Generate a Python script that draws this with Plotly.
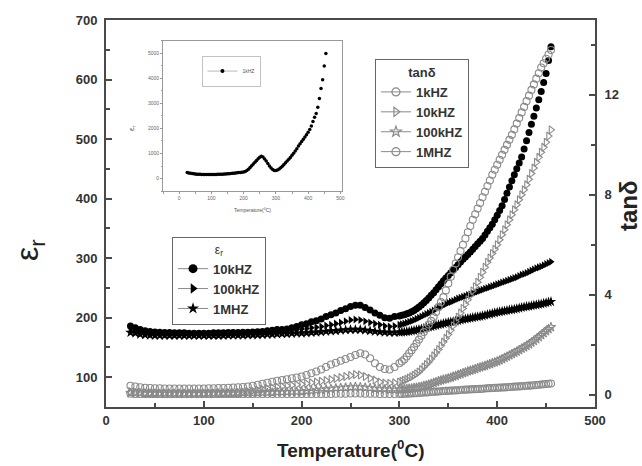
import plotly.graph_objects as go

# measurement temperatures (denser above 300 C, as in the measured data)
temperature = [25, 30, 35, 40, 45, 50, 55, 60, 65, 70,
               75, 80, 85, 90, 95, 100, 105, 110, 115, 120,
               125, 130, 135, 140, 145, 150, 155, 160, 165, 170,
               175, 180, 185, 190, 195, 200, 205, 210, 215, 220,
               225, 230, 235, 240, 245, 250, 255, 260, 265, 270,
               275, 280, 285, 290, 295,
               300, 302.5, 305, 307.5, 310, 312.5, 315, 317.5, 320, 322.5,
               325, 327.5, 330, 332.5, 335, 337.5, 340, 342.5, 345, 347.5,
               350, 352.5, 355, 357.5, 360, 362.5, 365, 367.5, 370, 372.5,
               375, 377.5, 380, 382.5, 385, 387.5, 390, 392.5, 395, 397.5,
               400, 402.5, 405, 407.5, 410, 412.5, 415, 417.5, 420, 422.5,
               425, 427.5, 430, 432.5, 435, 437.5, 440, 442.5, 445, 447.5,
               450, 452.5, 455]

# dielectric constant (left axis)
er_10k = [186, 183, 180, 178, 177, 176, 175.5, 175, 175, 174.5,
          174.5, 174.5, 174, 174, 174, 174, 174, 174.5, 174.5, 174.5,
          175, 175, 175, 175.5, 175.5, 176, 176.5, 177, 178, 179,
          180, 180, 181, 183, 185, 188, 190, 193, 195, 198,
          202, 205, 208, 212, 215, 219, 221, 221, 217, 213,
          208, 204, 200, 199, 202,
          203, 204, 205, 206.5, 208, 210, 212, 215, 218, 221.5,
          225, 229, 233, 237.5, 242, 247, 252, 257, 262, 266.5,
          271, 275.5, 280, 284.5, 289, 293.5, 298, 302, 306, 310.5,
          315, 319.5, 324, 328.5, 333, 339, 345, 351, 357, 364.5,
          372, 380, 388, 398.5, 409, 419.5, 430, 440, 450, 460,
          470, 483.5, 497, 511, 525, 538.5, 552, 566, 580, 595,
          610, 632, 655]
er_100k = [180, 178, 176, 174, 173.5, 173, 172.5, 172, 172, 171.5,
           171.5, 171, 171, 171, 171, 171, 171, 171, 171, 171.5,
           171.5, 171.5, 172, 172, 172, 172, 172.5, 173, 174, 175,
           176, 177, 178, 179, 180, 181, 182, 183, 184, 185,
           187, 188, 190, 192, 194, 196, 197, 196, 194, 192,
           190, 188, 186, 185, 186,
           188, 189, 190, 191.5, 193, 194.5, 196, 198, 200, 202,
           204, 206, 208, 210, 212, 214.5, 217, 219, 221, 223,
           225, 226.5, 228, 230, 232, 233.5, 235, 236.5, 238, 239.5,
           241, 242.5, 244, 245.5, 247, 248.5, 250, 251.5, 253, 254.5,
           256, 257.5, 259, 260.5, 262, 263.5, 265, 266.5, 268, 270,
           272, 273.5, 275, 277, 279, 281, 283, 284.5, 286, 288,
           290, 292, 294]
er_1M = [175, 174, 172, 171, 170.5, 170, 170, 170, 170, 170,
         170, 170, 170, 170, 170, 170, 170, 170, 170, 170,
         170.5, 170.5, 170.5, 170.5, 171, 171, 171, 171.5, 172, 172,
         172.5, 173, 173, 173.5, 174, 174, 174.5, 175, 175.5, 176,
         177, 177.5, 178, 179, 179.5, 180, 180, 180, 179, 178,
         177, 176, 175.5, 175, 175,
         175.5, 175.8, 176, 176.5, 177, 177.8, 178.5, 179.2, 180, 181,
         182, 183, 184, 185, 186, 187, 188, 189, 190, 191,
         192, 192.8, 193.5, 194.2, 195, 196, 197, 197.8, 198.5, 199.2,
         200, 200.8, 201.5, 202.2, 203, 204, 205, 206, 207, 208,
         209, 209.8, 210.5, 211.2, 212, 212.8, 213.5, 214.2, 215, 216,
         217, 217.8, 218.5, 219.2, 220, 220.8, 221.5, 222.2, 223, 224,
         225, 226, 227]

# loss tangent (right axis)
tan_1k = [0.35, 0.32, 0.29, 0.27, 0.26, 0.25, 0.25, 0.24, 0.24, 0.24,
          0.24, 0.24, 0.24, 0.24, 0.24, 0.24, 0.25, 0.25, 0.26, 0.26,
          0.27, 0.28, 0.29, 0.30, 0.32, 0.35, 0.39, 0.43, 0.47, 0.51,
          0.55, 0.58, 0.61, 0.65, 0.68, 0.72, 0.78, 0.85, 0.92, 1.0,
          1.1, 1.2, 1.27, 1.35, 1.42, 1.5, 1.58, 1.65, 1.6, 1.45,
          1.25, 1.1, 1.02, 1.0, 1.1,
          1.25, 1.32, 1.4, 1.52, 1.65, 1.77, 1.9, 2.05, 2.2, 2.35,
          2.5, 2.65, 2.8, 2.95, 3.1, 3.3, 3.5, 3.7, 3.9, 4.17,
          4.45, 4.72, 5.0, 5.25, 5.5, 5.75, 6.0, 6.25, 6.5, 6.75,
          7.0, 7.22, 7.45, 7.67, 7.9, 8.12, 8.35, 8.57, 8.8, 9.0,
          9.2, 9.4, 9.6, 9.8, 10.0, 10.2, 10.4, 10.62, 10.85, 11.07,
          11.3, 11.52, 11.75, 11.97, 12.2, 12.42, 12.65, 12.87, 13.1, 13.27,
          13.45, 13.62, 13.8]
tan_10k = [0.12, 0.1, 0.09, 0.08, 0.07, 0.07, 0.06, 0.06, 0.06, 0.05,
           0.05, 0.05, 0.05, 0.05, 0.05, 0.05, 0.06, 0.06, 0.07, 0.07,
           0.08, 0.09, 0.1, 0.11, 0.13, 0.15, 0.18, 0.21, 0.24, 0.27,
           0.3, 0.32, 0.35, 0.37, 0.39, 0.41, 0.44, 0.47, 0.5, 0.53,
           0.56, 0.6, 0.64, 0.68, 0.72, 0.76, 0.8, 0.78, 0.72, 0.65,
           0.58, 0.5, 0.46, 0.45, 0.47,
           0.5, 0.53, 0.57, 0.61, 0.66, 0.71, 0.77, 0.83, 0.9, 1.0,
           1.1, 1.2, 1.3, 1.42, 1.55, 1.67, 1.8, 1.95, 2.1, 2.25,
           2.4, 2.57, 2.75, 2.92, 3.1, 3.27, 3.45, 3.62, 3.8, 3.97,
           4.15, 4.32, 4.5, 4.7, 4.9, 5.1, 5.3, 5.47, 5.65, 5.82,
           6.0, 6.2, 6.4, 6.6, 6.8, 7.0, 7.2, 7.4, 7.6, 7.8,
           8.0, 8.2, 8.4, 8.62, 8.85, 9.07, 9.3, 9.5, 9.7, 9.9,
           10.1, 10.35, 10.6]
tan_100k = [0.06, 0.05, 0.05, 0.04, 0.04, 0.04, 0.03, 0.03, 0.03, 0.03,
            0.03, 0.03, 0.03, 0.03, 0.03, 0.03, 0.03, 0.03, 0.04, 0.04,
            0.04, 0.04, 0.04, 0.05, 0.05, 0.05, 0.06, 0.07, 0.07, 0.08,
            0.09, 0.09, 0.1, 0.11, 0.11, 0.12, 0.14, 0.15, 0.17, 0.19,
            0.21, 0.23, 0.25, 0.27, 0.28, 0.3, 0.31, 0.3, 0.28, 0.26,
            0.24, 0.22, 0.21, 0.2, 0.2,
            0.2, 0.21, 0.22, 0.23, 0.24, 0.25, 0.27, 0.28, 0.3, 0.32,
            0.35, 0.37, 0.4, 0.43, 0.47, 0.5, 0.54, 0.57, 0.6, 0.62,
            0.65, 0.68, 0.72, 0.75, 0.79, 0.82, 0.86, 0.89, 0.93, 0.96,
            0.99, 1.02, 1.06, 1.09, 1.12, 1.15, 1.19, 1.22, 1.26, 1.29,
            1.33, 1.37, 1.42, 1.47, 1.52, 1.57, 1.62, 1.67, 1.72, 1.78,
            1.84, 1.89, 1.95, 2.01, 2.08, 2.15, 2.22, 2.3, 2.38, 2.46,
            2.54, 2.62, 2.7]
tan_1M = [0.03, 0.02, 0.02, 0.02, 0.02, 0.02, 0.02, 0.02, 0.02, 0.02,
          0.02, 0.02, 0.02, 0.02, 0.02, 0.02, 0.02, 0.02, 0.02, 0.02,
          0.02, 0.02, 0.02, 0.02, 0.02, 0.02, 0.02, 0.02, 0.02, 0.02,
          0.02, 0.02, 0.02, 0.02, 0.02, 0.02, 0.02, 0.02, 0.02, 0.02,
          0.02, 0.02, 0.03, 0.03, 0.03, 0.04, 0.04, 0.04, 0.03, 0.03,
          0.03, 0.02, 0.02, 0.02, 0.02,
          0.02, 0.025, 0.03, 0.035, 0.04, 0.045, 0.05, 0.055, 0.06, 0.07,
          0.08, 0.085, 0.09, 0.1, 0.11, 0.115, 0.12, 0.13, 0.14, 0.145,
          0.15, 0.155, 0.16, 0.165, 0.17, 0.18, 0.19, 0.195, 0.2, 0.205,
          0.21, 0.215, 0.22, 0.225, 0.23, 0.24, 0.25, 0.255, 0.26, 0.265,
          0.27, 0.275, 0.28, 0.285, 0.29, 0.3, 0.31, 0.315, 0.32, 0.325,
          0.33, 0.34, 0.35, 0.355, 0.36, 0.37, 0.38, 0.39, 0.4, 0.41,
          0.42, 0.43, 0.44]

# inset: dielectric constant at 1 kHz
temperature_inset = [25, 30, 35, 40, 45, 50, 55, 60, 65, 70,
                     75, 80, 85, 90, 95, 100, 105, 110, 115, 120,
                     125, 130, 135, 140, 145, 150, 155, 160, 165, 170,
                     175, 180, 185, 190, 195, 200, 205, 210, 215, 220,
                     225, 230, 235, 240, 245, 250, 255, 260, 265, 270,
                     275, 280, 285, 290, 295, 300, 305, 310, 315, 320,
                     325, 330, 335, 340, 345, 350, 355, 360, 365, 370,
                     375, 380, 385, 390, 395, 400, 405, 410, 415, 420,
                     425, 430, 435, 440, 445, 450, 455]
er_1k_inset = [240, 225, 210, 200, 190, 180, 175, 170, 168, 166,
               164, 162, 161, 160, 160, 160, 162, 164, 166, 168,
               170, 173, 176, 180, 185, 190, 196, 202, 208, 215,
               222, 230, 238, 246, 255, 265, 285, 320, 370, 440,
               510, 580, 650, 720, 790, 850, 890, 860, 780, 700,
               600, 500, 420, 360, 320, 320, 345, 380, 430, 490,
               560, 630, 700, 770, 840, 930, 1010, 1100, 1190, 1300,
               1390, 1480, 1570, 1660, 1750, 1850, 1960, 2100, 2280, 2450,
               2600, 2850, 3200, 3600, 3950, 4500, 5000]

FONT = "Liberation Sans, Arial, sans-serif"
AX = "#4a4a4a"
GRAY = "#8a8a8a"

fig = go.Figure()

er_series = [("10kHZ", er_10k, "circle", 7),
             ("100kHZ", er_100k, "triangle-right", 7),
             ("1MHZ", er_1M, "star", 8)]
for name, vals, sym, sz in er_series:
    fig.add_trace(go.Scatter(x=temperature, y=vals, mode="markers", showlegend=False,
                             marker=dict(symbol=sym, size=sz, color="black"),
                             xaxis="x", yaxis="y"))

tan_series = [("1kHZ", tan_1k, "circle-open"),
              ("10kHZ", tan_10k, "triangle-right-open"),
              ("100kHZ", tan_100k, "star-open"),
              ("1MHZ", tan_1M, "circle-open")]
for name, vals, sym in tan_series:
    fig.add_trace(go.Scatter(x=temperature, y=vals, mode="markers", showlegend=False,
                             marker=dict(symbol=sym, size=7, color=GRAY, line=dict(width=1.1, color=GRAY)),
                             xaxis="x", yaxis="y2"))

# legend entries (Origin style line+symbol)
for name, vals, sym in tan_series:
    fig.add_trace(go.Scatter(x=[None], y=[None], mode="lines+markers", name="<b>%s</b>" % name,
                             legend="legend", line=dict(color=GRAY, width=1),
                             marker=dict(symbol=sym, size=8, color=GRAY, line=dict(width=1.2, color=GRAY)),
                             xaxis="x", yaxis="y2"))
for name, vals, sym, sz in er_series:
    fig.add_trace(go.Scatter(x=[None], y=[None], mode="lines+markers", name="<b>%s</b>" % name,
                             legend="legend2", line=dict(color=GRAY, width=1),
                             marker=dict(symbol=sym, size=9, color="black"),
                             xaxis="x", yaxis="y"))

# inset
fig.add_trace(go.Scatter(x=temperature_inset, y=er_1k_inset, mode="markers", showlegend=False,
                         marker=dict(symbol="circle", size=3.5, color="black"),
                         xaxis="x2", yaxis="y3"))
fig.add_trace(go.Scatter(x=[None], y=[None], mode="lines+markers", name="1kHZ",
                         legend="legend3", line=dict(color=GRAY, width=0.6),
                         marker=dict(symbol="circle", size=4, color="black"),
                         xaxis="x2", yaxis="y3"))

tickfont = dict(family=FONT, size=13, color="#333", weight="bold")

fig.update_layout(
    width=642, height=466,
    margin=dict(l=106, r=47, t=20, b=59),
    paper_bgcolor="white", plot_bgcolor="white",
    font=dict(family=FONT, color="#333"),
    xaxis=dict(range=[0, 500], dtick=100, tick0=0, showgrid=False, zeroline=False,
               showline=True, linecolor=AX, linewidth=2, mirror=True,
               ticks="inside", ticklen=6, tickwidth=1.5, tickcolor=AX,
               minor=dict(dtick=50, ticks="inside", ticklen=4, tickcolor=AX, tickwidth=1.5),
               tickfont=tickfont, ticklabelstandoff=0),
    yaxis=dict(range=[50, 700], dtick=100, tick0=0, showgrid=False, zeroline=False,
               showline=True, linecolor=AX, linewidth=2,
               ticks="inside", ticklen=6, tickwidth=1.5, tickcolor=AX,
               minor=dict(dtick=50, ticks="inside", ticklen=4, tickcolor=AX, tickwidth=1.5),
               tickfont=tickfont, ticklabelstandoff=4),
    yaxis2=dict(range=[-0.5, 15], dtick=4, tick0=0, overlaying="y", side="right",
                showgrid=False, zeroline=False, showline=True, linecolor=AX, linewidth=2,
                ticks="inside", ticklen=6, tickwidth=1.5, tickcolor=AX,
                minor=dict(dtick=2, ticks="inside", ticklen=4, tickcolor=AX, tickwidth=1.5),
                tickfont=tickfont, ticklabelstandoff=5),
    xaxis2=dict(domain=[0.1166, 0.4826], anchor="y3", range=[-50, 505], dtick=100, tick0=0,
                showgrid=False, zeroline=False, showline=True, linecolor="#999", linewidth=1,
                mirror=True, ticks="outside", ticklen=2, tickcolor="#999",
                minor=dict(dtick=50, ticks="outside", ticklen=1.5, tickcolor="#999"),
                tickfont=dict(family=FONT, size=5, color="#666")),
    yaxis3=dict(domain=[0.558, 0.946], anchor="x2", range=[-500, 5500], dtick=1000, tick0=0,
                showgrid=False, zeroline=False, showline=True, linecolor="#999", linewidth=1,
                mirror=True, ticks="outside", ticklen=2, tickcolor="#999",
                minor=dict(dtick=500, ticks="outside", ticklen=1.5, tickcolor="#999"),
                tickfont=dict(family=FONT, size=5, color="#666")),
    legend=dict(x=0.55, y=0.899, xanchor="left", yanchor="top", bgcolor="white",
                bordercolor="#666", borderwidth=1, itemwidth=30, tracegroupgap=0,
                font=dict(family=FONT, size=13, color="#333"),
                title=dict(text="<b>tanδ</b>", side="top center", font=dict(family=FONT, size=13, color="#333"))),
    legend2=dict(x=0.135, y=0.439, xanchor="left", yanchor="top", bgcolor="white",
                 bordercolor="#666", borderwidth=1, itemwidth=30, tracegroupgap=0,
                 font=dict(family=FONT, size=13, color="#333"),
                 title=dict(text="ε<sub>r</sub>", side="top center", font=dict(family=FONT, size=12, color="#333"))),
    legend3=dict(x=0.196, y=0.907, xanchor="left", yanchor="top", bgcolor="white",
                 bordercolor="#999", borderwidth=0.6, itemwidth=30,
                 font=dict(family=FONT, size=5, color="#555")),
    annotations=[
        dict(text="ε<sub>r</sub>", xref="paper", yref="paper", x=-0.155, y=0.406,
             xanchor="center", yanchor="middle",
             textangle=-90, showarrow=False, font=dict(family=FONT, size=32, color="#222")),
        dict(text="<b>tanδ</b>", xref="paper", yref="paper", x=1.07, y=0.52,
             xanchor="center", yanchor="middle",
             textangle=-90, showarrow=False, font=dict(family=FONT, size=24, color="#222")),
        dict(text="<b>Temperature(<sup>0</sup>C)</b>", xref="paper", yref="paper", x=0.499, y=-0.108,
             xanchor="center", yanchor="middle", showarrow=False,
             font=dict(family=FONT, size=19, color="#222")),
        dict(text="ε<sub>r</sub>", xref="paper", yref="paper", x=(132 - 106) / 489, y=(407 - 128) / 387,
             xanchor="center", yanchor="middle",
             textangle=-90, showarrow=False, font=dict(family=FONT, size=8, color="#555")),
        dict(text="Temperature(<sup>0</sup>C)", xref="paper", yref="paper", x=(252 - 106) / 489,
             y=(407 - 210) / 387, xanchor="center", yanchor="middle", showarrow=False,
             font=dict(family=FONT, size=5, color="#555")),
    ],
)

fig.write_html("out.html", config={"displayModeBar": False},
               post_script="document.body.style.margin='0';")
